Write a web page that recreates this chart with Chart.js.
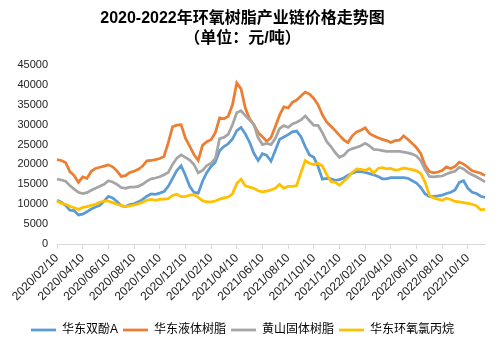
<!DOCTYPE html>
<html><head><meta charset="utf-8">
<script src="https://cdn.jsdelivr.net/npm/chart.js@4.4.1/dist/chart.umd.min.js"></script>
<style>html,body{margin:0;padding:0;background:#fff;}#wrap{width:500px;height:351px;}</style>
</head><body>
<div id="wrap"><canvas id="c" width="500" height="351"></canvas></div>
<script>
const titleLines = ['2020-2022年环氧树脂产业链价格走势图', '（单位：元/吨）'];
const seriesNames = ['华东双酚A', '华东液体树脂', '黄山固体树脂', '华东环氧氯丙烷'];
const categories = [
'2020/02/10','2020/02/20','2020/02/29','2020/03/10','2020/03/20','2020/03/30','2020/04/10','2020/04/20','2020/04/30',
'2020/05/10','2020/05/20','2020/05/30','2020/06/10','2020/06/20','2020/06/30','2020/07/10','2020/07/20','2020/07/30',
'2020/08/10','2020/08/20','2020/08/30','2020/09/10','2020/09/20','2020/09/30','2020/10/10','2020/10/20','2020/10/30',
'2020/11/10','2020/11/20','2020/11/30','2020/12/10','2020/12/20','2020/12/30',
'2021/01/10','2021/01/20','2021/01/30','2021/02/10','2021/02/20','2021/02/28','2021/03/10','2021/03/20','2021/03/30',
'2021/04/10','2021/04/20','2021/04/30','2021/05/10','2021/05/20','2021/05/30','2021/06/10','2021/06/20','2021/06/30',
'2021/07/10','2021/07/20','2021/07/30','2021/08/10','2021/08/20','2021/08/30','2021/09/10','2021/09/20','2021/09/30',
'2021/10/10','2021/10/20','2021/10/30','2021/11/10','2021/11/20','2021/11/30','2021/12/10','2021/12/20','2021/12/30',
'2022/01/10','2022/01/20','2022/01/30','2022/02/10','2022/02/20','2022/02/28','2022/03/10','2022/03/20','2022/03/30',
'2022/04/10','2022/04/20','2022/04/30','2022/05/10','2022/05/20','2022/05/30','2022/06/10','2022/06/20','2022/06/30',
'2022/07/10','2022/07/20','2022/07/30','2022/08/10','2022/08/20','2022/08/30','2022/09/10','2022/09/20','2022/09/30',
'2022/10/10','2022/10/20','2022/10/30','2022/11/10','2022/11/20'
];
const tickLabels = ['2020/02/10','2020/04/10','2020/06/10','2020/08/10','2020/10/10','2020/12/10',
'2021/02/10','2021/04/10','2021/06/10','2021/08/10','2021/10/10','2021/12/10',
'2022/02/10','2022/04/10','2022/06/10','2022/08/10','2022/10/10'];
const yTicks = [0, 5000, 10000, 15000, 20000, 25000, 30000, 35000, 40000, 45000];

const bpaEast = [11000,10500,9700,8500,8400,7300,7500,8100,8800,9300,
9700,10800,12000,11600,10700,9600,9400,9900,10100,10600,
11200,12000,12600,12500,12800,13200,14500,16500,18500,19700,
17300,14500,13000,12800,15800,18000,19500,20600,23500,24500,
25200,26400,28500,29300,27700,25600,22800,21000,22700,22300,
20800,23500,26300,26900,27500,28200,28400,27000,24500,22400,
21800,19500,16300,16500,16400,16000,16200,16600,17300,17800,
18200,18200,18000,17700,17400,17000,16400,16400,16700,16700,
16700,16700,16500,15900,15300,14200,12600,12000,12000,12100,
12300,12700,13000,13600,15500,15900,14000,13000,12700,12000,
11700];
const liquidResinEast = [21200,21000,20500,18200,17200,15500,16900,16500,18300,19000,
19300,19600,19900,19400,18400,17000,17200,18000,18300,18800,
19600,20900,21000,21200,21500,22000,25500,29500,29900,30000,
26600,24600,22500,21000,24800,25700,26200,28000,31700,31500,
32100,35000,40500,39000,34200,31500,30000,28000,27000,25800,
26800,29500,32400,34500,34200,35600,36200,37200,38200,37700,
36600,35000,32500,30700,29600,28500,27300,26200,25500,27200,
28200,28600,29200,27800,27200,26700,26300,26000,25500,26000,
26100,27200,26300,25300,24200,22700,19800,18200,17900,18100,
18500,19400,19000,19500,20600,20100,19300,18400,18100,17800,
17200];
const solidResinHuangshan = [16300,16100,15800,14700,13800,13000,12700,12900,13500,14000,
14500,15000,15900,15600,15000,14200,14000,14300,14300,14500,
15000,15800,16400,16600,16900,17400,18000,20000,21600,22400,
21800,21100,20000,17900,18500,19700,20300,21500,26500,26800,
27600,30000,33000,33500,32300,31200,30000,26700,25000,25300,
25000,26500,29000,29800,29300,30200,30600,31200,32200,31000,
29800,29800,28000,25800,24500,23000,21800,22300,23500,24000,
24300,24700,25300,24700,23800,23700,23500,23300,23300,23300,
23300,23100,22900,22600,22100,20900,18700,17000,16900,17000,
17100,17600,18000,18300,19300,18900,18000,17400,16900,16300,
15600];
const echEast = [10800,10200,10000,9500,9100,8700,9200,9400,9700,10000,
10500,10800,10800,10400,10000,9700,9400,9600,9800,10100,
10500,11000,11200,11000,11200,11300,11400,12200,12500,11900,
11900,12300,12400,11700,10900,10600,10600,10800,11300,11600,
11800,12600,15200,16300,14600,14300,14000,13400,13100,13300,
13600,14000,15000,14000,14500,14500,14700,18000,21000,20300,
20000,20300,19600,17500,15700,15500,14800,15800,16800,18000,
18900,18800,18500,19000,17800,19000,19200,18900,19000,18600,
18700,19100,18900,18700,18400,17700,15500,12300,11600,11300,
11000,11500,11200,10700,10600,10400,10200,10000,9600,8600,
8700];

const seriesColors = ['#5B9BD5', '#ED7D31', '#A5A5A5', '#FFC000'];
const fam = "'Liberation Sans','Noto Sans CJK SC',sans-serif";
const allSeries = [bpaEast, liquidResinEast, solidResinHuangshan, echEast];

new Chart(document.getElementById('c'), {
  type: 'line',
  data: {
    labels: categories,
    datasets: allSeries.map((d, i) => ({
      label: seriesNames[i],
      data: d,
      borderColor: seriesColors[i],
      backgroundColor: seriesColors[i],
      borderWidth: 2.75,
      pointRadius: 0,
      tension: 0,
      fill: false,
      order: 4 - i
    }))
  },
  options: {
    responsive: false,
    animation: false,
    devicePixelRatio: 1,
    layout: { padding: { left: 0, right: 15, top: 0, bottom: 5 } },
    plugins: {
      title: {
        display: true, text: titleLines, color: '#000',
        font: { size: 16, weight: 'bold', family: fam, lineHeight: 1.22 },
        padding: { top: 9, bottom: 17 }
      },
      legend: {
        position: 'bottom',
        labels: {
          usePointStyle: true, pointStyle: 'line', pointStyleWidth: 25, padding: 5,
          color: '#000', font: { size: 12, family: fam },
          sort: (a, b) => a.datasetIndex - b.datasetIndex
        }
      },
      tooltip: { enabled: false }
    },
    scales: {
      x: {
        type: 'category', offset: false,
        grid: { display: true, drawOnChartArea: false, drawTicks: true, tickLength: 5, color: '#d9d9d9' },
        border: { display: true, color: '#d9d9d9', width: 1 },
        ticks: {
          autoSkip: false, minRotation: 45, maxRotation: 45, padding: 2,
          color: '#222', font: { size: 12, family: fam },
          callback: function (value) {
            const l = this.getLabelForValue(value);
            return tickLabels.includes(l) ? l : null;
          }
        },
        afterFit: (s) => { s.height = 75; }
      },
      y: {
        min: 0, max: 45000,
        afterBuildTicks: (s) => { s.ticks = yTicks.map(v => ({ value: v })); },
        grid: { display: false, drawTicks: false },
        border: { display: false },
        ticks: { padding: 9, color: '#222', font: { size: 11, family: fam },
          callback: (v) => String(v) },
        afterFit: (s) => { s.width = 57; }
      }
    }
  }
});
</script>
</body></html>
